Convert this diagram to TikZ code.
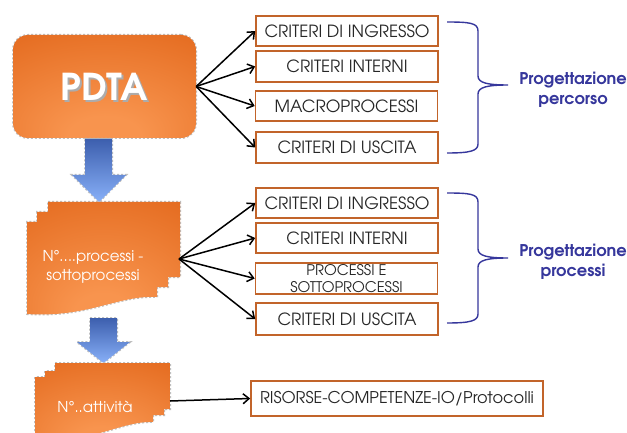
\documentclass[tikz,border=0pt]{standalone}
\usepackage{fontspec}
\setmainfont{TeX Gyre Adventor}
\usetikzlibrary{arrows.meta}

\definecolor{orL}{HTML}{F8944E}
\definecolor{orM}{HTML}{E66F24}
\definecolor{orD}{HTML}{CF4F08}
\definecolor{boxline}{HTML}{C2642A}
\definecolor{boxtext}{HTML}{262626}
\definecolor{navy}{HTML}{36379C}
\definecolor{blueTop}{HTML}{3D5FAE}
\definecolor{blueBot}{HTML}{88B0F8}

% glow of the orange shapes, lighter towards the lower middle
\pgfdeclareradialshading{orglow}{\pgfpoint{0bp}{-28bp}}{%
  color(0bp)=(orL); color(10bp)=(orL); color(42bp)=(orM); color(78bp)=(orD)}

\tikzset{
  orangeshape/.style={shade, shading=orglow,
    preaction={draw=gray!50, line width=2pt, dotted}},
  bluearrow/.style={shade, top color=blueTop, bottom color=blueBot,
    preaction={draw=gray!50, line width=2pt, dotted}},
  critbox/.style={draw=boxline, line width=1.6pt, fill=white,
    minimum width=182pt, minimum height=30pt, inner sep=0pt,
    text=boxtext, font=\fontsize{16.8}{18}\selectfont},
  conn/.style={draw=black, line width=1.5pt,
    -{Straight Barb[length=6pt,width=10pt,line width=1.5pt]}},
  bracepath/.style={draw=navy, line width=1.4pt},
  bracelabel/.style={text=navy, align=center,
    font=\fontsize{16.2}{20}\bfseries\selectfont},
  doclabel/.style={text=white, align=center,
    font=\fontsize{15}{19}\selectfont},
}

\begin{document}
\begin{tikzpicture}[x=1pt,y=-1pt]
\useasboundingbox (0,0) rectangle (627,433);
\fill[white] (0,0) rectangle (627,433);
\clip (0,0) rectangle (627,433);

% ---- main block
\node[orangeshape, rounded corners=15pt, minimum width=183pt,
      minimum height=103pt, inner sep=0pt] (pdta) at (104.5,86.5) {};
\node[text=gray!65, font=\fontsize{37}{40}\bfseries\selectfont]
      (pdtashadow) at (106,88.5) {PDTA};
\node[text=white, font=\fontsize{37}{40}\bfseries\selectfont]
      (pdtalabel) at (104.5,87) {PDTA};

% ---- block arrows going down
\path[bluearrow] (85,139) -- (112,139) -- (112,175) -- (126,175)
  -- (99,202) -- (72,175) -- (85,175) -- cycle;
\path[bluearrow] (90,318) -- (117,318) -- (117,342) -- (130,342)
  -- (103.5,363) -- (77,342) -- (90,342) -- cycle;

% ---- stacked documents: processes
\path[orangeshape] (48,202) -- (180,202) -- (180,277) -- (168,277)
  -- (168,287) -- (157,287) -- (157,297)
  .. controls (118,295) and (88,318) .. (27,314)
  -- (27,222) -- (37,222) -- (37,212) -- (48,212) -- cycle;
\node[doclabel] (proclabel) at (93,266.5) {N°….processi -\\sottoprocessi};
\coordinate (hubB) at (179,259);

% ---- stacked documents: activities
\path[orangeshape] (55,363) -- (170,363) -- (170,409) -- (164,409)
  -- (164,415) -- (153,415) -- (153,422)
  .. controls (120,421) and (92,444) .. (35,440)
  -- (35,377) -- (45,377) -- (45,371) -- (55,371) -- cycle;
\node[doclabel] (attlabel) at (95,407) {N°..attività};
\coordinate (hubC) at (170,401);

% ---- first group of criteria
\node[critbox] (a1) at (347,31)   {CRITERI DI INGRESSO};
\node[critbox, minimum height=31pt] (a2) at (347,66.5) {CRITERI INTERNI};
\node[critbox] (a3) at (346.5,106) {MACROPROCESSI};
\node[critbox, minimum height=31pt] (a4) at (347,147.5) {CRITERI DI USCITA};

% ---- second group of criteria
\node[critbox] (b1) at (347,203)   {CRITERI DI INGRESSO};
\node[critbox] (b2) at (347,238)   {CRITERI INTERNI};
\node[critbox, minimum height=31pt, align=center,
      font=\fontsize{14.7}{17}\selectfont] (b3) at (346.5,278.5)
      {PROCESSI E\\SOTTOPROCESSI};
\node[critbox, minimum height=32pt] (b4) at (347,319) {CRITERI DI USCITA};

% ---- resources
\node[critbox, minimum width=292pt, minimum height=35pt,
      font=\fontsize{16.2}{18}\selectfont] (res) at (397,398.5)
      {RISORSE-COMPETENZE-IO/Protocolli};

% ---- connectors
\foreach \t in {a1,a2,a3,a4} \draw[conn] (pdta.east) -- (\t.west);
\foreach \t in {b1,b2,b3,b4} \draw[conn] (hubB) -- (\t.west);
\draw[conn] (hubC) -- (res.west);

% ---- braces
\path[bracepath] (447,22) .. controls (470,22) and (478,23) .. (478,31)
  -- (478,76) .. controls (478,83) and (488,85) .. (508,85)
  .. controls (488,85) and (478,87) .. (478,94)
  -- (478,144) .. controls (478,151) and (470,153) .. (447,153);
\node[bracelabel] (lab1) at (573,90) {Progettazione\\percorso};

\path[bracepath] (447,193) .. controls (470,193) and (478,194) .. (478,202)
  -- (478,249) .. controls (478,256) and (488,258) .. (508,258)
  .. controls (488,258) and (478,260) .. (478,267)
  -- (478,314) .. controls (478,321) and (470,323) .. (447,323);
\node[bracelabel] (lab2) at (573,262) {Progettazione\\processi};
\end{tikzpicture}
\end{document}
